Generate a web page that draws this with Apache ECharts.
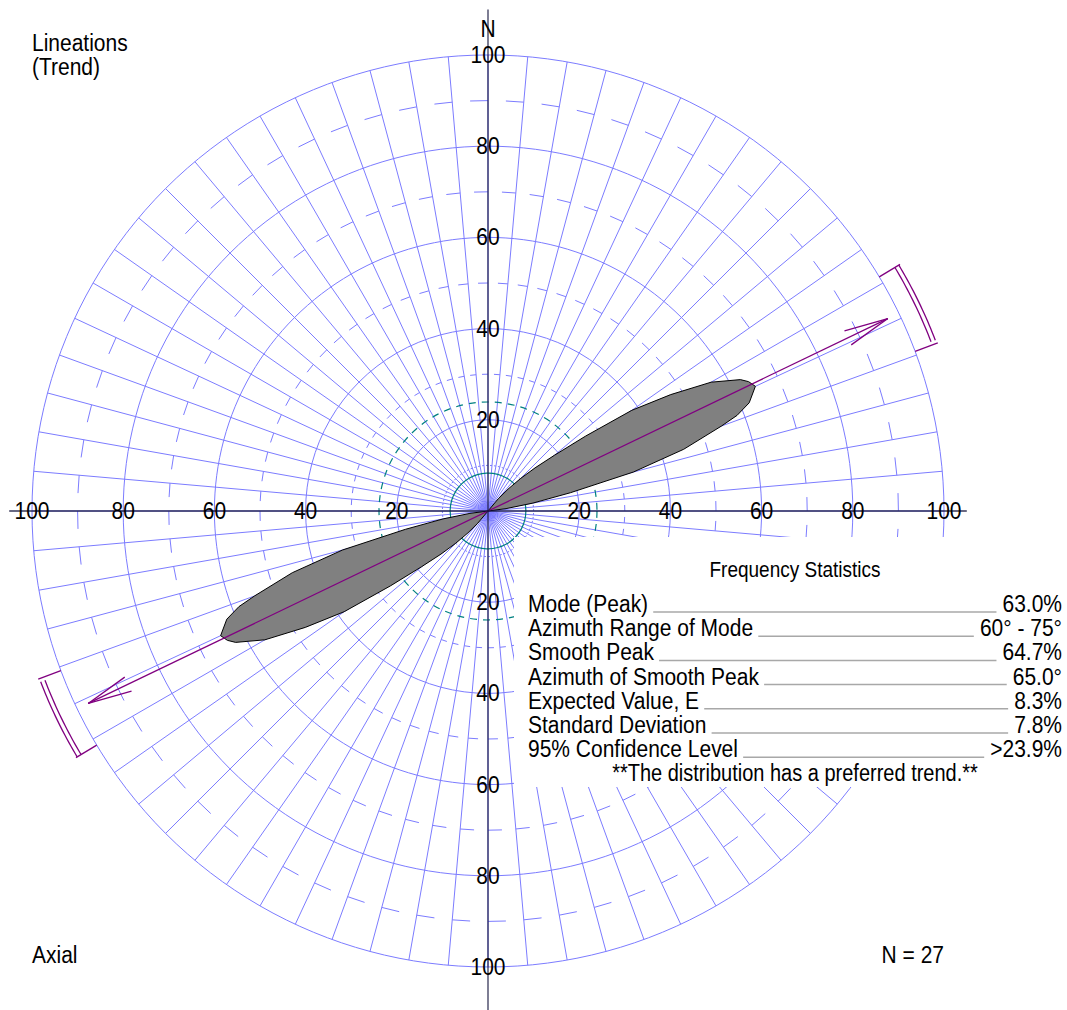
<!DOCTYPE html>
<html>
<head>
<meta charset="utf-8">
<title>Lineations (Trend) rose diagram</title>
<script src="https://cdn.jsdelivr.net/npm/echarts@6/dist/echarts.min.js"></script>
<style>
html, body { margin: 0; padding: 0; background: #fff; }
#chart { width: 1067px; height: 1010px; }
</style>
</head>
<body>
<div id="chart"></div>
<script>
// smoothed rose, one half of the axial data (azimuth deg, radius %)
var roseAzimuth = [0, 35, 40, 42.5, 45, 47.5, 50, 52.5, 55, 57.5, 60, 62.5, 63.6, 65, 67.5, 69, 70, 72.5, 75, 77.5, 80, 82.5, 85, 180];
var roseRadius  = [0, 0, 3.5, 6.5, 10, 14, 19, 27, 38.5, 47.5, 56.5, 62.4, 63.8, 64.7, 62, 58.5, 54.5, 45, 33, 18.5, 10, 4, 0, 0];

var ringValues = [20, 40, 60, 80, 100];
var armAzimuths = [0, 90, 180, 270];
var tickRadii = [10, 30, 50, 70, 90];
var spokeStep = 5;

var expectedValue = 8.3;
var confidenceLevel = 23.9;
var meanAzimuth = 64.3;
var arrowLength = 97.3;
var meanHalfAngle = 5.2;

var statLabels = ['Mode (Peak)', 'Azimuth Range of Mode', 'Smooth Peak', 'Azimuth of Smooth Peak',
                  'Expected Value, E', 'Standard Deviation', '95% Confidence Level'];
var statValues = ['63.0%', '60\u00b0 - 75\u00b0', '64.7%', '65.0\u00b0', '8.3%', '7.8%', '>23.9%'];
var statNote = '**The distribution has a preferred trend.**';
var sampleSize = 27;

var FONT = 'Arial, "Liberation Sans", sans-serif';
var TALL = 1.15; // the original lettering is a bit taller than Arial
var BLUE = '#7c7cff';
var PURPLE = '#800080';
var TEAL = '#008080';

var chart = echarts.init(document.getElementById('chart'), null, { renderer: 'svg' });

var spokeData = [];
var tickData = [];
for (var a = 0; a < 360; a += spokeStep) {
    spokeData.push([100, a]);
    tickRadii.forEach(function (r) { tickData.push([r, a]); });
}
var ringData = ringValues.map(function (v) { return [v, 0]; });

var labelData = [];
armAzimuths.forEach(function (a) {
    ringValues.forEach(function (v) { labelData.push([v, a]); });
});

function lineEl(p1, p2, style) {
    return { type: 'line', shape: { x1: p1[0], y1: p1[1], x2: p2[0], y2: p2[1] }, style: style };
}

function circleAt(api, r, style) {
    var c = api.coord([0, 0]);
    var p = api.coord([r, 0]);
    return { type: 'circle', shape: { cx: c[0], cy: c[1], r: Math.abs(c[1] - p[1]) }, style: style };
}

function barbs(tip, center, style) {
    var dx = center[0] - tip[0], dy = center[1] - tip[1];
    var len = Math.sqrt(dx * dx + dy * dy);
    var ux = dx / len, uy = dy / len;
    var out = [];
    [-10, 10].forEach(function (deg) {
        var t = deg * Math.PI / 180;
        var vx = ux * Math.cos(t) - uy * Math.sin(t);
        var vy = ux * Math.sin(t) + uy * Math.cos(t);
        out.push(lineEl(tip, [tip[0] + vx * 45, tip[1] + vy * 45], style));
    });
    return out;
}

function textEl(x, y, s, size, align) {
    return {
        type: 'text', x: x, y: y, scaleY: TALL, z2: 10,
        style: { text: s, fontSize: size, fontFamily: FONT, fill: '#000',
                 align: align || 'center', verticalAlign: 'middle' }
    };
}

function gridStyle() {
    return { stroke: BLUE, lineWidth: 1, fill: 'none' };
}

var option = {
    animation: false,
    polar: { center: [488, 511], radius: 456 },
    angleAxis: {
        type: 'value', min: 0, max: 360, interval: spokeStep,
        startAngle: 90, clockwise: true, show: false
    },
    radiusAxis: {
        type: 'value', min: 0, max: 100, interval: 20, show: false
    },
    series: [
        {
            // spokes every 5 degrees
            type: 'custom', coordinateSystem: 'polar', silent: true, z: 1,
            data: spokeData,
            renderItem: function (params, api) {
                return lineEl(api.coord([0, 0]), api.coord([api.value(0), api.value(1)]), gridStyle());
            }
        },
        {
            // rings
            type: 'custom', coordinateSystem: 'polar', silent: true, z: 1,
            data: ringData,
            renderItem: function (params, api) {
                return circleAt(api, api.value(0), gridStyle());
            }
        },
        {
            // small ticks between the rings
            type: 'custom', coordinateSystem: 'polar', silent: true, z: 2,
            data: tickData,
            renderItem: function (params, api) {
                var r = api.value(0), a = api.value(1);
                return lineEl(api.coord([r, a]), api.coord([r, a - spokeStep / 2]), gridStyle());
            }
        },
        {
            // expected value and 95% confidence circles
            type: 'custom', coordinateSystem: 'polar', silent: true, z: 2,
            data: [[expectedValue, 0], [confidenceLevel, 0]],
            renderItem: function (params, api) {
                return circleAt(api, api.value(0), {
                    fill: 'none', stroke: TEAL, lineWidth: 1.2,
                    lineDash: params.dataIndex === 1 ? [7, 6] : null
                });
            }
        },
        {
            // smoothed rose, plotted in both directions (axial data)
            name: 'Smoothed rose',
            type: 'custom', coordinateSystem: 'polar', silent: true, z: 3,
            data: [[0, 0], [0, 180]],
            renderItem: function (params, api) {
                var off = api.value(1);
                var pts = [];
                for (var i = 0; i < roseAzimuth.length; i++) {
                    pts.push(api.coord([roseRadius[i], roseAzimuth[i] + off]));
                }
                return {
                    type: 'polygon', shape: { points: pts },
                    style: { fill: '#808080', stroke: '#000', lineWidth: 1, lineJoin: 'round' }
                };
            }
        },
        {
            // mean direction arrow and its confidence brackets
            type: 'custom', coordinateSystem: 'polar', silent: true, z: 4,
            data: [[arrowLength, meanAzimuth]],
            renderItem: function (params, api) {
                var L = api.value(0), az = api.value(1);
                var style = { stroke: PURPLE, lineWidth: 1.3, fill: 'none' };
                var c = api.coord([0, 0]);
                var t1 = api.coord([L, az]), t2 = api.coord([L, az + 180]);
                var kids = [lineEl(t1, t2, style)];
                kids = kids.concat(barbs(t1, c, style), barbs(t2, c, style));
                [0, 180].forEach(function (off) {
                    var a1 = az - meanHalfAngle + off, a2 = az + meanHalfAngle + off;
                    [104, 105].forEach(function (r) {
                        var pts = [];
                        for (var a = a1; a <= a2 + 0.01; a += 0.5) pts.push(api.coord([r, a]));
                        kids.push({ type: 'polyline', shape: { points: pts }, style: style });
                    });
                    kids.push(lineEl(api.coord([100, a1]), api.coord([105.3, a1]), style));
                    kids.push(lineEl(api.coord([100, a2]), api.coord([105.3, a2]), style));
                });
                return { type: 'group', children: kids };
            }
        },
        {
            // N-S and E-W axes
            type: 'custom', coordinateSystem: 'polar', silent: true, z: 5,
            data: [[110, 0], [110, 180], [105, 90], [105, 270]],
            renderItem: function (params, api) {
                return lineEl(api.coord([0, 0]), api.coord([api.value(0), api.value(1)]),
                    { stroke: 'rgba(20,20,60,0.85)', lineWidth: 1.3 });
            }
        },
        {
            // ring values along the four axes
            type: 'custom', coordinateSystem: 'polar', silent: true, z: 6,
            data: labelData,
            renderItem: function (params, api) {
                var v = api.value(0), a = api.value(1);
                var p = api.coord([v, a]);
                var kids = [textEl(p[0], p[1], String(v), 21)];
                if (v === 100 && a === 0) kids.push(textEl(p[0], p[1] - 26, 'N', 21));
                return { type: 'group', children: kids };
            }
        }
    ],
    graphic: []
};

// corner texts
var g = option.graphic;
function txt(x, y, s, size, align) {
    var t = textEl(x, y, s, size, align || 'left');
    t.z = 101;
    t.silent = true;
    g.push(t);
}
txt(32, 43, 'Lineations', 21);
txt(32, 67, '(Trend)', 21);
txt(32, 955, 'Axial', 21);
txt(944, 955, 'N = ' + sampleSize, 21, 'right');

// frequency statistics box
g.push({ type: 'rect', z: 100, silent: true,
         shape: { x: 514, y: 537, width: 553, height: 250 },
         style: { fill: '#fff' } });
txt(795, 569, 'Frequency Statistics', 19, 'center');

var ctx = document.createElement('canvas').getContext('2d');
ctx.font = '21px ' + FONT;
statLabels.forEach(function (lab, i) {
    var y = 604 + i * 24.2;
    txt(528, y, lab, 21);
    txt(1062, y, statValues[i], 21, 'right');
    var x1 = 528 + ctx.measureText(lab).width + 5;
    var x2 = 1062 - ctx.measureText(statValues[i]).width - 6;
    g.push({ type: 'line', z: 101, silent: true,
             shape: { x1: x1, y1: y + 8, x2: x2, y2: y + 8 },
             style: { stroke: '#a8a8a8', lineWidth: 1.5 } });
});
txt(795, 773, statNote, 20, 'center');

chart.setOption(option);
</script>
</body>
</html>
